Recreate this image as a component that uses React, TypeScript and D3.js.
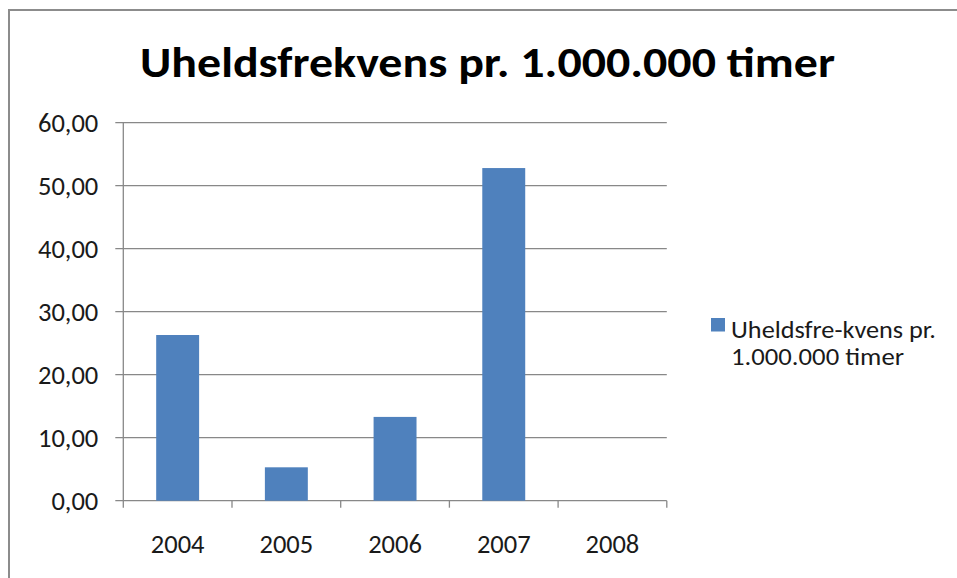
import React from "react"
import * as d3 from "d3"

const years = ["2004", "2005", "2006", "2007", "2008"]
const frequency = [26.3, 5.3, 13.3, 52.8, 0]
const yTicks = [0, 10, 20, 30, 40, 50, 60]
const title = "Uheldsfrekvens pr. 1.000.000 timer"
const legendLines = ["Uheldsfre-kvens pr.", "1.000.000 timer"]

const font = "Carlito, Calibri, Lato, sans-serif"
const barColor = "#4F81BD"
const gridColor = "#888888"
const labelSize = 26.5

export default function App() {
  const margin = { top: 122.7, left: 123.3 }
  const width = 543.5
  const height = 378

  const x = d3.scaleBand().domain(years).range([0, width]).paddingInner(0.605).paddingOuter(0.3025)
  const band = d3.scaleBand().domain(years).range([0, width])
  const y = d3.scaleLinear().domain([0, 60]).range([height, 0])
  const fmt = (v: number) => v.toFixed(2).replace(".", ",")

  return (
    <svg width={957} height={578} style={{ position: "absolute", left: 0, top: 0 }}>
      <rect x={0} y={0} width={957} height={578} fill="white" />
      <rect x={9} y={10} width={960} height={580} fill="none" stroke="#8c8c8c" strokeWidth={2} />
      <text
        x={140}
        y={77}
        textLength={695}
        lengthAdjust="spacingAndGlyphs"
        fontFamily={font}
        fontWeight="bold"
        fontSize={43}
        fill="#000"
      >
        {title}
      </text>
      <g transform={`translate(${margin.left},${margin.top})`}>
        {yTicks.map(t => (
          <g key={t}>
            <line x1={-8} x2={width} y1={y(t)} y2={y(t)} stroke={gridColor} strokeWidth={1.3} />
            <text x={-25} y={y(t)} dy="0.36em" textAnchor="end" fontFamily={font} fontSize={labelSize} fill="#1a1a1a">
              {fmt(t)}
            </text>
          </g>
        ))}
        <line x1={0} x2={0} y1={0} y2={height} stroke={gridColor} strokeWidth={1.3} />
        {years.map((yr, i) => (
          <rect
            key={yr}
            x={x(yr)}
            width={x.bandwidth()}
            y={y(frequency[i])}
            height={height - y(frequency[i])}
            fill={barColor}
          />
        ))}
        {[0, ...years.map(yr => (band(yr) as number) + band.bandwidth())].map((v, i) => (
          <line key={i} x1={v} x2={v} y1={height} y2={height + 7} stroke={gridColor} strokeWidth={1.3} />
        ))}
        {years.map(yr => (
          <text
            key={yr}
            x={(band(yr) as number) + band.bandwidth() / 2}
            y={height + 52}
            textAnchor="middle"
            fontFamily={font}
            fontSize={labelSize}
            fill="#1a1a1a"
          >
            {yr}
          </text>
        ))}
      </g>
      <rect x={711} y={318} width={14} height={13.5} fill={barColor} />
      {legendLines.map((l, i) => (
        <text
          key={i}
          x={731}
          y={337.5 + i * 27.5}
          textLength={i === 0 ? 205 : 173}
          lengthAdjust="spacingAndGlyphs"
          fontFamily={font}
          fontSize={23.5}
          fill="#1a1a1a"
        >
          {l}
        </text>
      ))}
    </svg>
  )
}
